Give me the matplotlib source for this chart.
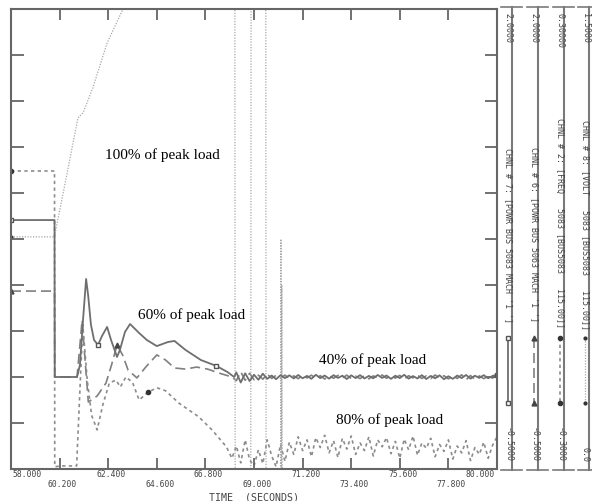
import numpy as np
import matplotlib.pyplot as plt
from matplotlib import transforms

# channel 7 - solid, POWR BUS 5083 (scale -0.5 .. 2.0)
ch7_t = [58.0, 59.97, 59.98, 60.99, 61.12, 61.26, 61.40, 61.49, 61.62, 61.76, 61.94, 62.12,
         62.35, 62.53, 62.80, 62.93, 63.16, 63.39, 63.80, 64.15, 64.60, 65.10, 65.40, 65.90,
         66.60, 67.30, 67.80, 68.10]
ch7_v = [0.853, 0.853, 0.0, 0.0, 0.065, 0.31, 0.533, 0.446, 0.283, 0.201, 0.174, 0.223,
         0.272, 0.201, 0.109, 0.147, 0.245, 0.288, 0.239, 0.201, 0.168, 0.19, 0.196, 0.147,
         0.092, 0.06, 0.027, 0.0]
ch7_noise = [0.025, -0.03, 0.02, -0.022, 0.012, -0.015, 0.018, -0.01, 0.008, -0.012, 0.01, -0.006,
             0.009, -0.008, 0.011, -0.007, 0.006, -0.01, 0.012, -0.006, 0.008, -0.009, 0.01, -0.005,
             0.007, -0.011, 0.009, -0.006, 0.01, -0.008, 0.006, -0.007, 0.011, -0.005, 0.008, -0.01,
             0.007, -0.006, 0.012, -0.009, 0.005, -0.008, 0.01, -0.011, 0.006, -0.007, 0.009, -0.012,
             0.004, -0.01, 0.008, -0.006, 0.011, -0.009, 0.007, -0.005, 0.01, -0.007, 0.006, 0.012]

# channel 6 - dashed, POWR BUS 5063 (scale -0.5 .. 2.0)
ch6_t = [58.0, 59.97, 59.98, 60.99, 61.10, 61.22, 61.30, 61.50, 61.90, 62.30, 62.55, 62.80,
         63.05, 63.30, 63.70, 64.10, 64.60, 65.00, 65.40, 65.90, 66.40, 66.90, 67.40, 68.00]
ch6_v = [0.467, 0.467, 0.0, 0.0, 0.147, 0.31, 0.174, -0.136, -0.103, -0.033, 0.065, 0.174,
         0.12, 0.038, -0.005, 0.054, 0.12, 0.092, 0.049, 0.043, 0.054, 0.043, 0.022, 0.0]
ch6_noise = [-0.02, 0.028, -0.018, 0.02, -0.015, 0.01, -0.012, 0.016, -0.008, 0.009, -0.006, 0.01,
             -0.007, 0.006, -0.009, 0.008, -0.005, 0.01, -0.008, 0.007, -0.011, 0.006, -0.007, 0.009,
             -0.006, 0.01, -0.008, 0.005, -0.009, 0.007, -0.01, 0.006, -0.005, 0.011, -0.007, 0.008,
             -0.006, 0.009, -0.012, 0.007, -0.005, 0.01, -0.008, 0.006, -0.009, 0.011, -0.006, 0.007,
             -0.01, 0.005, -0.008, 0.012, -0.015, 0.008, -0.012, 0.006, -0.009, 0.004, -0.006, 0.01]

# channel 2 - dotted, FREQ 5083 (scale -0.3 .. 0.3)
ch2_t = [58.0, 59.97, 59.98, 60.30, 60.97, 61.10, 61.25, 61.45, 61.65, 61.90, 62.15, 62.45, 62.75,
         62.95, 63.20, 63.50, 63.80, 64.20, 64.60, 65.00, 65.60, 66.50, 67.10, 67.75, 68.00]
ch2_v = [0.0887, 0.0887, -0.297, -0.296, -0.296, -0.21, -0.112, -0.184, -0.23, -0.249, -0.217,
         -0.188, -0.184, -0.193, -0.18, -0.187, -0.21, -0.2, -0.194, -0.198, -0.214, -0.232,
         -0.249, -0.271, -0.286]
ch2_noise = [-0.27, -0.292, -0.262, -0.288, -0.296, -0.275, -0.293, -0.262, -0.283, -0.297, -0.268, -0.29,
             -0.265, -0.281, -0.258, -0.276, -0.262, -0.284, -0.259, -0.272, -0.256, -0.279, -0.263, -0.285,
             -0.26, -0.274, -0.257, -0.281, -0.266, -0.276, -0.258, -0.283, -0.262, -0.271, -0.259, -0.28,
             -0.264, -0.286, -0.261, -0.275, -0.257, -0.282, -0.266, -0.273, -0.26, -0.284, -0.268, -0.277,
             -0.262, -0.287, -0.27, -0.279, -0.263, -0.289, -0.272, -0.281, -0.265, -0.286, -0.269, -0.258]

# channel 8 - fine dots (scale 0.0 .. 1.5), leaves the window after the trip
ch8_t = [58.0, 59.97, 60.0, 60.5, 61.03, 61.26, 61.7, 62.35, 63.07, 63.6, 68.13, 68.15, 68.85,
         68.87, 69.53, 69.55, 70.20, 70.22, 70.24, 70.26, 70.28, 80.0]
ch8_v = [0.757, 0.757, 0.77, 0.95, 1.145, 1.161, 1.242, 1.389, 1.5, 1.8, 1.8, -0.3, -0.3,
         1.8, 1.8, -0.3, -0.3, 0.75, -0.3, 0.6, -0.3, -0.3]

noise_start, noise_end = 68.2, 80.0

x_ticks = [58.0, 60.2, 62.4, 64.6, 66.8, 69.0, 71.2, 73.4, 75.6, 77.8, 80.0]
x_labels = ["58.000", "60.200", "62.400", "64.600", "66.800", "69.000",
            "71.200", "73.400", "75.600", "77.800", "80.000"]

strip_x = [512, 538, 564, 589]
strip_top = ["2.0000", "2.0000", "0.30000", "1.5000"]
strip_bot = ["-0.5000", "-0.5000", "-0.3000", "0.0"]
strip_chnl = ["CHNL # 7: [POWR BUS 5083 MACH '1 ']",
              "CHNL # 6: [POWR BUS 5063 MACH '1 ']",
              "CHNL # 2: [FREQ   5083 [BUS5083   115.00]]",
              "CHNL # 8: [VOLT   5083 [BUS5083   115.00]]"]
strip_text_y = [148, 147, 118, 120]

notes = [("100% of peak load", 0.311, 0.683),
         ("60% of peak load", 0.371, 0.335),
         ("40% of peak load", 0.743, 0.237),
         ("80% of peak load", 0.778, 0.107)]


def with_noise(t, v, noise):
    nt = np.linspace(noise_start, noise_end, len(noise))
    return list(t) + list(nt), list(v) + list(noise)


W, H = 592, 501
fig = plt.figure(figsize=(W / 100, H / 100), dpi=100)
frame = "#666666"
mono = "DejaVu Sans Mono"

ax = fig.add_axes([11 / W, 1 - 469 / H, 486 / W, 460 / H])
ax6 = ax.twinx()
ax2 = ax.twinx()
ax8 = ax.twinx()
for a in (ax6, ax2, ax8):
    a.axis("off")
ax.set_zorder(5)
ax.patch.set_visible(False)

ax.set_xlim(58, 80)
ax.set_ylim(-0.5, 2.0)
ax6.set_ylim(-0.5, 2.0)
ax2.set_ylim(-0.3, 0.3)
ax8.set_ylim(0.0, 1.5)

# styles per channel
st7 = dict(color="#6e6e6e", lw=1.3, ls="-", marker="s", ms=3.5, mfc="white", mec="#555555")
st6 = dict(color="#808080", lw=1.2, ls=(0, (6, 3)), marker="^", ms=3.5, mfc="#444444", mec="#444444")
st2 = dict(color="#8c8c8c", lw=1.2, ls=(0, (2, 2)), marker="o", ms=3, mfc="#333333", mec="#333333")
st8 = dict(color="#a8a8a8", lw=0.9, ls=(0, (1, 1.2)), marker=".", ms=4, mfc="#333333", mec="#333333")

ax8.plot(ch8_t, ch8_v, markevery=[0], **st8)

t2, v2 = with_noise(ch2_t, ch2_v, ch2_noise)
ax2.plot(t2, v2, markevery=[0, 17], **st2)

t6, v6 = with_noise(ch6_t, ch6_v, ch6_noise)
ax6.plot(t6, v6, markevery=[0, 11], **st6)

t7, v7 = with_noise(ch7_t, ch7_v, ch7_noise)
ax.plot(t7, v7, markevery=[0, 10, 25, len(t7) - 1], **st7)

# frame and ticks
for s in ax.spines.values():
    s.set_color(frame)
    s.set_linewidth(1.5)
ax.set_yticks(np.linspace(-0.5, 2.0, 11))
ax.tick_params(axis="y", direction="in", length=9, width=1.3, color=frame,
               left=True, right=True, labelleft=False)
lower = [("\n" if i % 2 else "") + lab for i, lab in enumerate(x_labels)]
ax.set_xticks(x_ticks, lower)
ax.tick_params(axis="x", direction="in", length=8, width=1.3, color=frame,
               top=True, bottom=True, pad=1, labelsize=5.8, labelcolor="#444444")
nlab = len(x_labels)
for i, lab in enumerate(ax.get_xticklabels()):
    lab.set_fontfamily(mono)
    lab.set_linespacing(1.05)
    dx = 3
    if i == 0:
        lab.set_ha("left")
        dx = 1
    elif i == nlab - 1:
        lab.set_ha("right")
        dx = -2
    lab.set_transform(lab.get_transform() + transforms.ScaledTranslation(dx / 100, 0, fig.dpi_scale_trans))

ax.text(0.5, -0.061, "TIME  (SECONDS)", transform=ax.transAxes, ha="center", va="center",
        fontsize=7.2, family=mono, color="#444444")

for txt, fx, fy in notes:
    ax.text(fx, fy, txt, transform=ax.transAxes, ha="center", va="center",
            fontsize=11, family="Liberation Serif", color="black")

# channel strips on the right, in pixel space
side = fig.add_axes([0, 0, 1, 1])
side.set_xlim(0, W)
side.set_ylim(H, 0)
side.axis("off")
legend_styles = [st7, st6, st2, st8]
for L, top, bot, chnl, ty, st in zip(strip_x, strip_top, strip_bot, strip_chnl,
                                     strip_text_y, legend_styles):
    side.plot([L, L], [7, 470], color="#7a7a7a", lw=1.5)
    side.plot([L - 11, L + 10], [7, 7], color="#7a7a7a", lw=1.2)
    side.plot([L - 11, L + 10], [470, 470], color="#7a7a7a", lw=1.2)
    side.text(L - 4, 13, top, rotation=270, rotation_mode="anchor", ha="left", va="center",
              fontsize=6, family=mono, color="#444444")
    side.text(L - 4, 462, bot, rotation=270, rotation_mode="anchor", ha="right", va="center",
              fontsize=6, family=mono, color="#444444")
    side.text(L - 4, ty, chnl, rotation=270, rotation_mode="anchor", ha="left", va="center",
              fontsize=6, family=mono, color="#444444")
    side.plot([L - 4, L - 4], [338, 403], markevery=[0, 1], **st)

fig.savefig("out.png", dpi=100, facecolor="white")
